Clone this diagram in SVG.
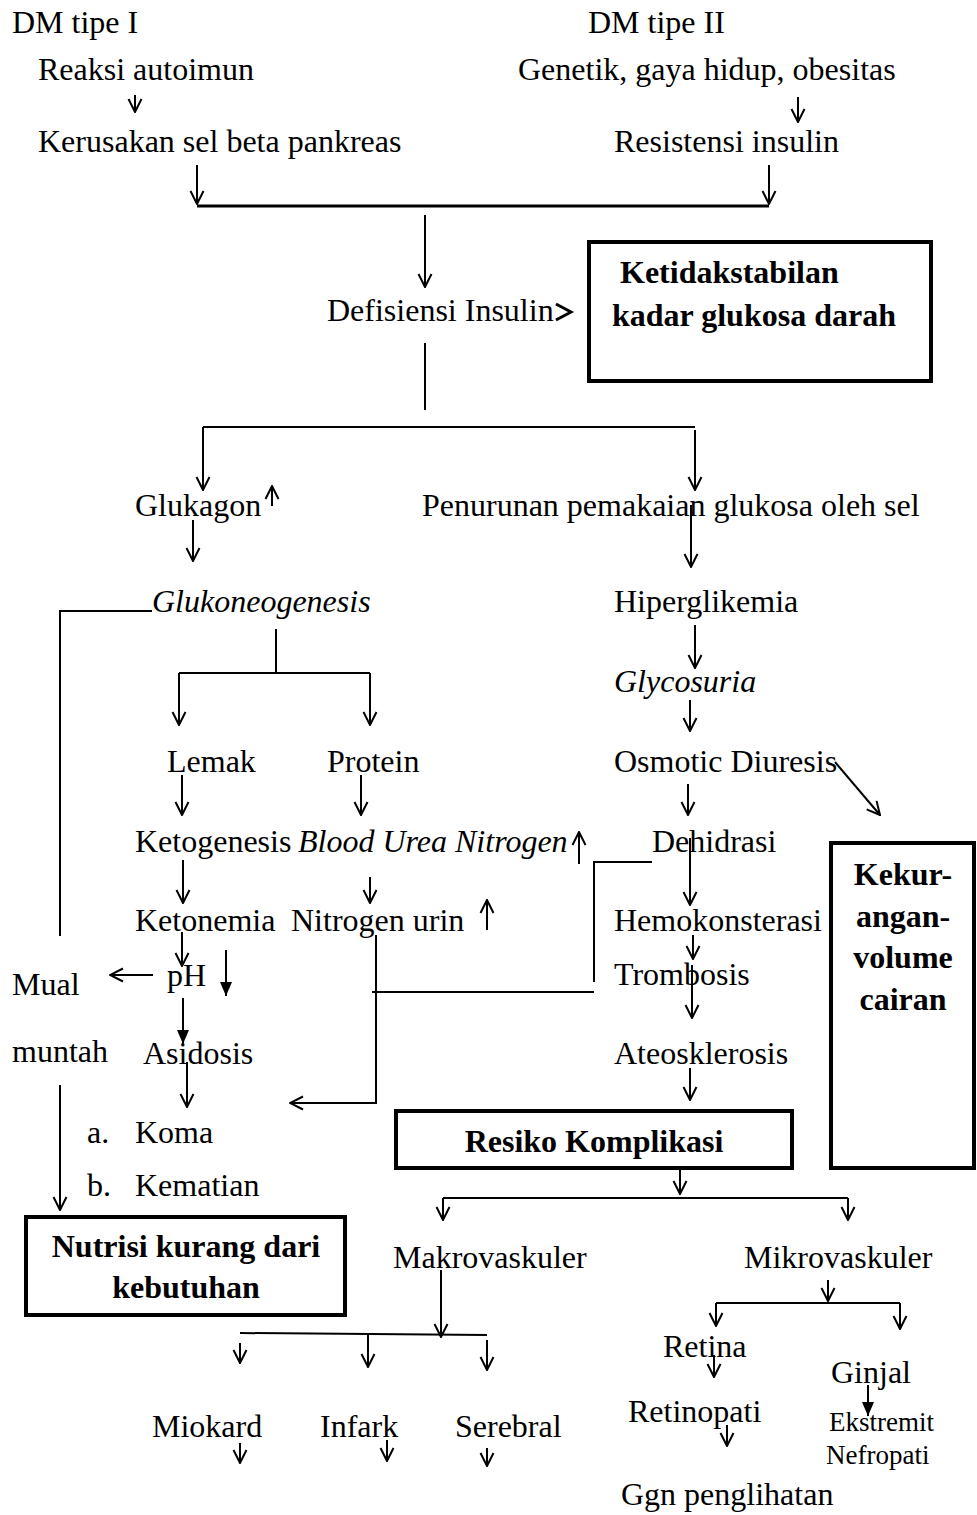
<svg xmlns="http://www.w3.org/2000/svg" width="977" height="1515" viewBox="0 0 977 1515">
<defs>
<style>
text{font-family:"Liberation Serif","Times New Roman",serif;font-size:32px;fill:#000}
.i{font-style:italic}
.b{font-weight:bold}
.c{text-anchor:middle}
.s{font-size:27px}
.ln{fill:none;stroke:#000;stroke-width:2}
.ar{fill:none;stroke:#000;stroke-width:2;marker-end:url(#open)}
.af{fill:none;stroke:#000;stroke-width:2;marker-end:url(#fill)}
.box{fill:none;stroke:#000;stroke-width:4}
</style>
<marker id="open" viewBox="0 0 16 16" refX="15" refY="8" markerWidth="16" markerHeight="16" orient="auto" markerUnits="userSpaceOnUse">
<path d="M2,1.5 L15,8 L2,14.5" fill="none" stroke="#000" stroke-width="2"/>
</marker>
<marker id="fill" viewBox="0 0 16 16" refX="15" refY="8" markerWidth="16" markerHeight="16" orient="auto" markerUnits="userSpaceOnUse">
<path d="M1,2 L15,8 L1,14 Z" fill="#000"/>
</marker>
</defs>
<rect width="977" height="1515" fill="#fff"/>

<g id="connectors">
<path class="ar" d="M135,95 V112"/>
<path class="ar" d="M798,97 V122"/>
<path class="ar" d="M197,165 V204"/>
<path class="ar" d="M769,165 V204"/>
<path class="ln" style="stroke-width:3" d="M197,206 H769"/>
<path class="ar" d="M425,215 V287"/>
<path class="ln" d="M425,343 V410"/>
<path class="ln" d="M203,427 H695"/>
<path class="ar" d="M203,427 V490"/>
<path class="ar" d="M695,430 V490"/>
<path class="ar" d="M272,506 V486"/>
<path class="ar" d="M193,520 V561"/>
<path class="ar" d="M691,505 V567"/>
<path class="ln" d="M152,611 H60 V936"/>
<path class="ln" d="M276,629 V673 M179,673 H370"/>
<path class="ar" d="M179,673 V725"/>
<path class="ar" d="M370,673 V725"/>
<path class="ar" d="M695,625 V668"/>
<path class="ar" d="M690,700 V731"/>
<path class="ar" d="M182,775 V815"/>
<path class="ar" d="M361,775 V815"/>
<path class="ar" d="M835,762 L880,815"/>
<path class="ar" d="M688,784 V815"/>
<path class="ar" d="M579,864 V832"/>
<path class="ar" d="M183,860 V903"/>
<path class="ar" d="M370,877 V903"/>
<path class="ar" d="M487,930 V900"/>
<path class="ar" d="M690,838 V905"/>
<path class="ln" d="M652,862 H594 V982 M594,992 H372"/>
<path class="ar" d="M376,935 V1103 H290"/>
<path class="ar" d="M182,932 V966"/>
<path class="ar" d="M153,975 H110"/>
<path class="af" d="M226,950 V996"/>
<path class="af" d="M183,998 V1044"/>
<path class="ar" d="M187,1062 V1107"/>
<path class="ar" d="M60,1085 V1210"/>
<path class="ar" d="M693,935 V959"/>
<path class="ar" d="M692,965 V1018"/>
<path class="ar" d="M690,1068 V1100"/>
<path class="ar" d="M680,1168 V1194"/>
<path class="ln" d="M443,1198 H848"/>
<path class="ar" d="M443,1198 V1220"/>
<path class="ar" d="M848,1198 V1220"/>
<path class="ar" d="M441,1270 V1337"/>
<path class="ln" d="M240,1333 L487,1335"/>
<path class="ar" d="M240,1343 V1363"/>
<path class="ar" d="M368,1334 V1367"/>
<path class="ar" d="M487,1340 V1370"/>
<path class="ar" d="M240,1443 V1463"/>
<path class="ar" d="M387,1440 V1461"/>
<path class="ar" d="M487,1448 V1466"/>
<path class="ar" d="M828,1280 V1301"/>
<path class="ln" d="M716,1303 H900"/>
<path class="ar" d="M716,1303 V1326"/>
<path class="ar" d="M900,1303 V1329"/>
<path class="ar" d="M714,1355 V1377"/>
<path class="af" d="M868,1385 V1416"/>
<path class="ar" d="M727,1425 V1446"/>
<path d="M556,304 L571,312 L556,320" fill="none" stroke="#000" stroke-width="3"/>
</g>

<g id="dm1"><text x="12" y="33">DM tipe I</text></g>
<g id="dm2"><text x="588" y="33">DM tipe II</text></g>
<g id="reaksi"><text x="38" y="80">Reaksi autoimun</text></g>
<g id="kerusakan"><text x="38" y="152">Kerusakan sel beta pankreas</text></g>
<g id="genetik"><text x="518" y="80">Genetik, gaya hidup, obesitas</text></g>
<g id="resistensi"><text x="614" y="152">Resistensi insulin</text></g>
<g id="defisiensi"><text x="327" y="321">Defisiensi Insulin</text></g>
<g id="ketidakstabilan">
<rect class="box" x="589" y="242" width="342" height="139"/>
<text class="b" x="620" y="283">Ketidakstabilan</text>
<text class="b" x="612" y="326">kadar glukosa darah</text>
</g>
<g id="glukagon"><text x="135" y="516">Glukagon</text></g>
<g id="penurunan"><text x="422" y="516">Penurunan pemakaian glukosa oleh sel</text></g>
<g id="glukoneogenesis"><text class="i" x="152" y="612">Glukoneogenesis</text></g>
<g id="hiperglikemia"><text x="614" y="612">Hiperglikemia</text></g>
<g id="glycosuria"><text class="i" x="614" y="692">Glycosuria</text></g>
<g id="lemak"><text x="167" y="772">Lemak</text></g>
<g id="protein"><text x="327" y="772">Protein</text></g>
<g id="osmotic"><text x="614" y="772">Osmotic Diuresis</text></g>
<g id="ketogenesis"><text x="135" y="852">Ketogenesis</text></g>
<g id="bun"><text class="i" x="298" y="852">Blood Urea Nitrogen</text></g>
<g id="dehidrasi"><text x="652" y="852">Dehidrasi</text></g>
<g id="ketonemia"><text x="135" y="931">Ketonemia</text></g>
<g id="nitrogen"><text x="291" y="931">Nitrogen urin</text></g>
<g id="hemokonsterasi"><text x="614" y="931">Hemokonsterasi</text></g>
<g id="mual"><text x="12" y="995">Mual</text></g>
<g id="ph"><text x="167" y="986">pH</text></g>
<g id="trombosis"><text x="614" y="985">Trombosis</text></g>
<g id="muntah"><text x="12" y="1062">muntah</text></g>
<g id="asidosis"><text x="143" y="1064">Asidosis</text></g>
<g id="ateosklerosis"><text x="614" y="1064">Ateosklerosis</text></g>
<g id="koma"><text x="87" y="1143">a.</text><text x="135" y="1143">Koma</text></g>
<g id="kematian"><text x="87" y="1196">b.</text><text x="135" y="1196">Kematian</text></g>
<g id="kekurangan">
<rect class="box" x="831" y="843" width="143" height="325"/>
<text class="b c" x="903" y="885">Kekur-</text>
<text class="b c" x="903" y="927">angan-</text>
<text class="b c" x="903" y="968">volume</text>
<text class="b c" x="903" y="1010">cairan</text>
</g>
<g id="resiko">
<rect class="box" x="396" y="1111" width="396" height="57"/>
<text class="b c" x="594" y="1152">Resiko Komplikasi</text>
</g>
<g id="nutrisi">
<rect class="box" x="26" y="1217" width="319" height="98"/>
<text class="b c" x="186" y="1257">Nutrisi kurang dari</text>
<text class="b c" x="186" y="1298">kebutuhan</text>
</g>
<g id="makro"><text x="393" y="1268">Makrovaskuler</text></g>
<g id="mikro"><text x="744" y="1268">Mikrovaskuler</text></g>
<g id="retina"><text x="663" y="1357">Retina</text></g>
<g id="ginjal"><text x="831" y="1383">Ginjal</text></g>
<g id="retinopati"><text x="628" y="1422">Retinopati</text></g>
<g id="ekstremit"><text class="s" x="829" y="1431">Ekstremit</text><text class="s" x="826" y="1464">Nefropati</text></g>
<g id="miokard"><text x="152" y="1437">Miokard</text></g>
<g id="infark"><text x="320" y="1437">Infark</text></g>
<g id="serebral"><text x="455" y="1437">Serebral</text></g>
<g id="ggn"><text x="621" y="1505">Ggn penglihatan</text></g>
</svg>
